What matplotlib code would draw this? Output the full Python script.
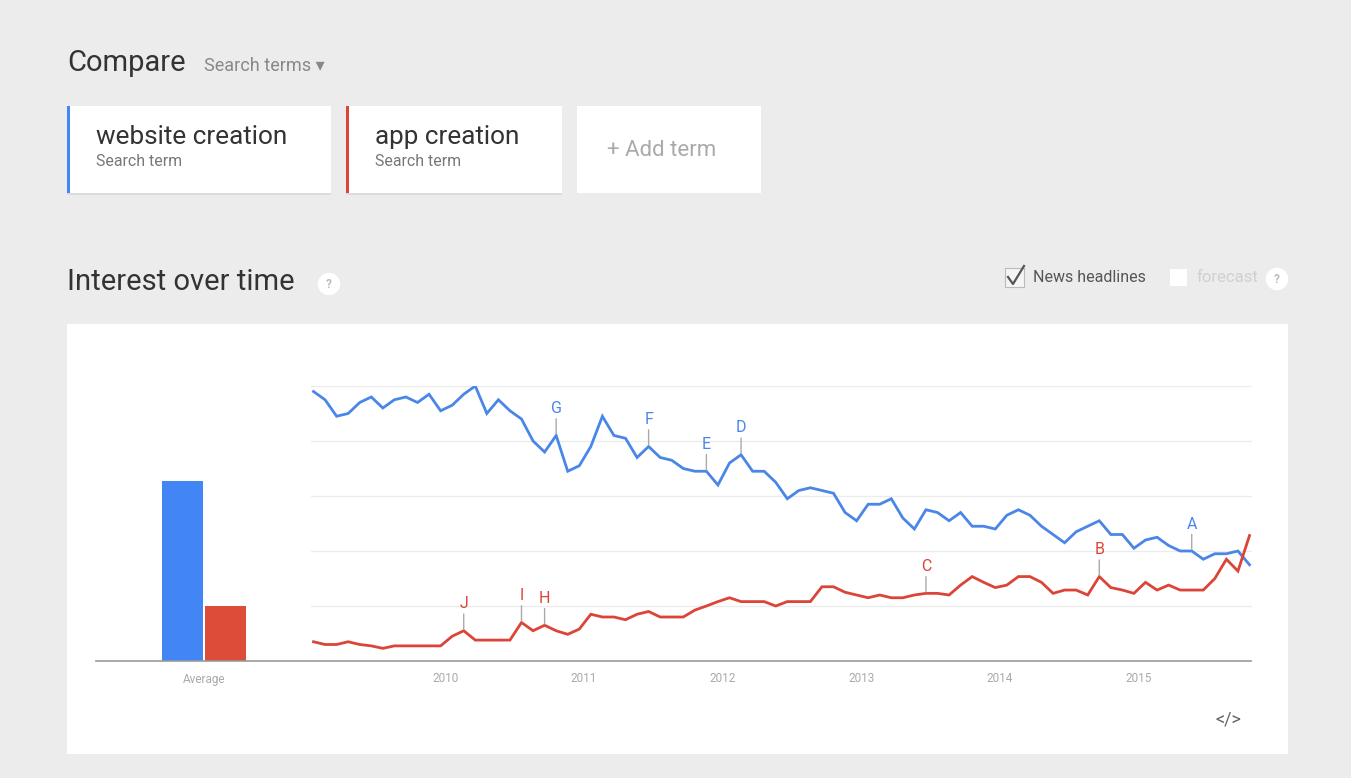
import numpy as np
import matplotlib
matplotlib.use("Agg")
from matplotlib import pyplot as plt
from matplotlib.patches import Rectangle
from matplotlib.lines import Line2D

plt.rcParams["font.family"] = ["Roboto", "DejaVu Sans"]

# monthly search interest, Jan 2009 - Oct 2015
website = [98, 95, 89, 90, 94, 96, 92, 95, 96, 94, 97, 91,
           93, 97, 100, 90, 95, 91, 88, 80, 76, 82, 69, 71,
           78, 89, 82, 81, 74, 78, 74, 73, 70, 69, 69, 64,
           72, 75, 69, 69, 65, 59, 62, 63, 62, 61, 54, 51,
           57, 57, 59, 52, 48, 55, 54, 51, 54, 49, 49, 48,
           53, 55, 53, 49, 46, 43, 47, 49, 51, 46, 46, 41,
           44, 45, 42, 40, 40, 37, 39, 39, 40, 35]
app = [7, 6, 6, 7, 6, 5.5, 4.6, 5.5, 5.5, 5.5, 5.5, 5.5,
       9, 11, 7.6, 7.6, 7.6, 7.6, 14, 11, 13, 11, 9.7, 11.6,
       17, 16, 16, 15, 17, 18, 16, 16, 16, 18.5, 20, 21.6,
       23, 21.6, 21.6, 21.6, 20, 21.6, 21.6, 21.6, 27, 27, 25, 24,
       23, 24, 23, 23, 24, 24.6, 24.6, 24, 27.6, 30.7, 28.6, 26.7,
       27.6, 30.7, 30.7, 28.6, 24.6, 25.8, 25.8, 24, 30.7, 26.7, 25.8, 24.6,
       28.6, 25.8, 27.6, 25.8, 25.8, 25.8, 30, 37, 32.7, 45.6]
averages = [65.5, 20]
terms = ["website creation", "app creation"]
years = [2010, 2011, 2012, 2013, 2014, 2015]

# news headline markers: (letter, series, month index)
markers = [("A", 0, 76), ("D", 0, 37), ("E", 0, 34), ("F", 0, 29), ("G", 0, 21),
           ("B", 1, 68), ("C", 1, 53), ("H", 1, 20), ("I", 1, 18), ("J", 1, 13)]

BLUE = "#4a86e8"
RED = "#db4437"
BAR_BLUE = "#4285f4"
BAR_RED = "#dd4b39"
W, H = 1351, 778


def fx(x):
    return x / W


def fy(y):
    return 1 - y / H


fig = plt.figure(figsize=(W / 100, H / 100), dpi=100, facecolor="#ececec")


def box(x0, y0, x1, y1, **kw):
    fig.patches.append(Rectangle((fx(x0), fy(y1)), fx(x1) - fx(x0), fy(y0) - fy(y1),
                                 transform=fig.transFigure, zorder=-1, **kw))


# header
fig.text(fx(67), fy(63), "Compare", fontsize=21, color="#333333", va="center")
fig.text(fx(204), fy(66), "Search terms \u25be", fontsize=13, color="#888888", va="center")

for i, (x0, x1) in enumerate([(67, 331), (346, 562)]):
    box(x0, 107, x1, 195, fc="#dcdcdc", ec="none")
    box(x0, 106, x1, 193, fc="white", ec="none")
    box(x0, 106, x0 + 3, 193, fc=[BAR_BLUE, RED][i], ec="none")
    fig.text(fx(x0 + 29), fy(137), terms[i], fontsize=18.8, color="#333333", va="center")
    fig.text(fx(x0 + 29), fy(161), "Search term", fontsize=11.4, color="#777777", va="center")
box(577, 106, 761, 193, fc="white", ec="none")
fig.text(fx(607), fy(150), "+ Add term", fontsize=16, color="#aaaaaa", va="center")

fig.text(fx(67), fy(282), "Interest over time", fontsize=21, color="#333333", va="center")
fig.text(fx(329), fy(284), "?", fontsize=8.5, color="#bbbbbb", ha="center", va="center",
         fontweight="bold", bbox=dict(boxstyle="circle,pad=0.4", fc="white", ec="none"))

# checkboxes
box(1005, 268, 1024, 287, fc="#f5f5f5", ec="#bbbbbb", lw=0.8)
fig.lines.append(Line2D([fx(1008), fx(1013), fx(1024)], [fy(277), fy(284), fy(266)],
                        transform=fig.transFigure, color="#555555", lw=1.6))
fig.text(fx(1033), fy(278), "News headlines", fontsize=11.5, color="#555555", va="center")
box(1170, 269, 1187, 286, fc="white", ec="none")
fig.text(fx(1197), fy(278), "forecast", fontsize=12, color="#d0d0d0", va="center")
fig.text(fx(1277), fy(279), "?", fontsize=8.5, color="#bbbbbb", ha="center", va="center",
         fontweight="bold", bbox=dict(boxstyle="circle,pad=0.4", fc="white", ec="none"))

# chart card
box(67, 324, 1288, 754, fc="white", ec="none")
fig.text(fx(1228), fy(719), "</>", fontsize=13, color="#666666", ha="center", va="center")

# average bars
bax = fig.add_axes([fx(96), fy(661), fx(312) - fx(96), fy(386) - fy(661)])
bax.bar([-0.2, 0.2], averages, width=0.38, color=[BAR_BLUE, BAR_RED])
bax.set_xlim(-1, 1)
bax.set_ylim(0, 100)
bax.axis("off")
fig.text(fx(204), fy(679), "Average", fontsize=8.5, color="#aaaaaa", ha="center", va="center")

# time series
t = 2009 + (np.arange(len(website)) + 0.6) / 12
ax = fig.add_axes([fx(311), fy(661), fx(1252) - fx(311), fy(386) - fy(661)])
ax.set_facecolor("none")
for g in [20, 40, 60, 80, 100]:
    ax.axhline(g, color="#ececec", lw=1, zorder=0)
ax.plot(t, website, color=BLUE, lw=2, zorder=3, solid_joinstyle="miter")
ax.plot(t, app, color=RED, lw=2, zorder=3, solid_joinstyle="miter")
ax.set_xlim(t[0] - 0.018, t[-1] + 0.018)
ax.set_ylim(0, 100)
ax.axis("off")
for y in years:
    ax.text(y, -6.5, str(y), fontsize=8.5, color="#aaaaaa", ha="center", va="center",
            clip_on=False)

series = [website, app]
for letter, s, i in markers:
    ax.annotate(letter, xy=(t[i], series[s][i]), xytext=(0, 14), textcoords="offset points",
                ha="center", va="bottom", fontsize=11.5, color=[BLUE, RED][s],
                arrowprops=dict(arrowstyle="-", color="#aaaaaa", lw=1, shrinkA=0, shrinkB=1),
                annotation_clip=False, zorder=4)

# baseline across bars and lines
fig.lines.append(Line2D([fx(96), fx(1251)], [fy(661), fy(661)], transform=fig.transFigure,
                        color="#999999", lw=1.2))

fig.savefig("out.png", dpi=100, facecolor=fig.get_facecolor())
